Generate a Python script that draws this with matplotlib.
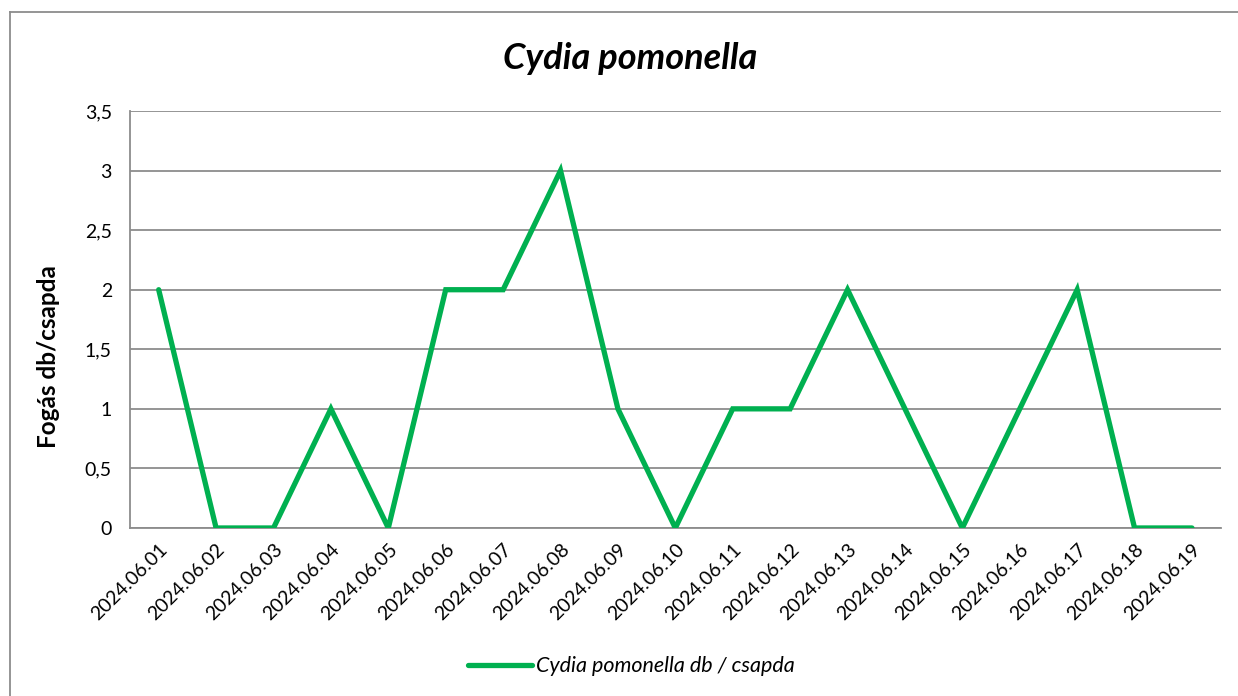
import matplotlib.pyplot as plt
from matplotlib.lines import Line2D

plt.rcParams['font.family'] = ['Lato', 'DejaVu Sans']

dates = ['2024.06.01', '2024.06.02', '2024.06.03', '2024.06.04', '2024.06.05',
         '2024.06.06', '2024.06.07', '2024.06.08', '2024.06.09', '2024.06.10',
         '2024.06.11', '2024.06.12', '2024.06.13', '2024.06.14', '2024.06.15',
         '2024.06.16', '2024.06.17', '2024.06.18', '2024.06.19']
catch = [2, 0, 0, 1, 0, 2, 2, 3, 1, 0, 1, 1, 2, 1, 0, 1, 2, 0, 0]
yticks = [0, 0.5, 1, 1.5, 2, 2.5, 3, 3.5]

fig = plt.figure(figsize=(12.38, 6.96), dpi=100)
ax = fig.add_axes([0.105, 0.2414, 0.881, 0.5991])

x = list(range(len(dates)))
ax.plot(x, catch, color='#00B050', lw=3.8, solid_joinstyle='miter',
        solid_capstyle='round', label='Cydia pomonella db / csapda', zorder=3)

ax.set_xlim(-0.5, len(dates) - 0.5)
ax.set_ylim(0, 3.5)
ax.set_yticks(yticks)
ax.set_yticklabels([str(v).replace('.', ',').replace(',0', '') for v in yticks], fontsize=14)
ax.set_xticks(x)
ax.set_xticklabels(dates, rotation=45, ha='right', rotation_mode='anchor', fontsize=14)
ax.tick_params(axis='y', length=0, pad=13)
ax.tick_params(axis='x', length=0, pad=9)

ax.grid(axis='y', color='#8c8c8c', lw=1.3)
ax.set_axisbelow(True)
for s in ['top', 'right']:
    ax.spines[s].set_visible(False)
for s in ['left', 'bottom']:
    ax.spines[s].set_color('#8c8c8c')
    ax.spines[s].set_linewidth(1.3)

ax.set_ylabel('Fogás db/csapda', fontsize=17.5, fontweight='bold')
ax.yaxis.set_label_coords(-0.064, 0.41)
fig.text(0.509, 0.916, 'Cydia pomonella', ha='center', va='center',
         fontsize=26, fontweight='bold', style='italic')

fig.legend(loc='center', bbox_to_anchor=(0.51, 0.043), frameon=False,
           prop={'style': 'italic', 'size': 15.5}, handlelength=3.0, handletextpad=0.2)

# chart frame: only top and left edges are visible in the picture
fx, fy = 10 / 1238, 1 - 12 / 696
fig.add_artist(Line2D([fx, 1], [fy, fy], transform=fig.transFigure, color='#8c8c8c', lw=1.3))
fig.add_artist(Line2D([fx, fx], [0, fy], transform=fig.transFigure, color='#8c8c8c', lw=1.3))

plt.savefig('out.png', dpi=100)
